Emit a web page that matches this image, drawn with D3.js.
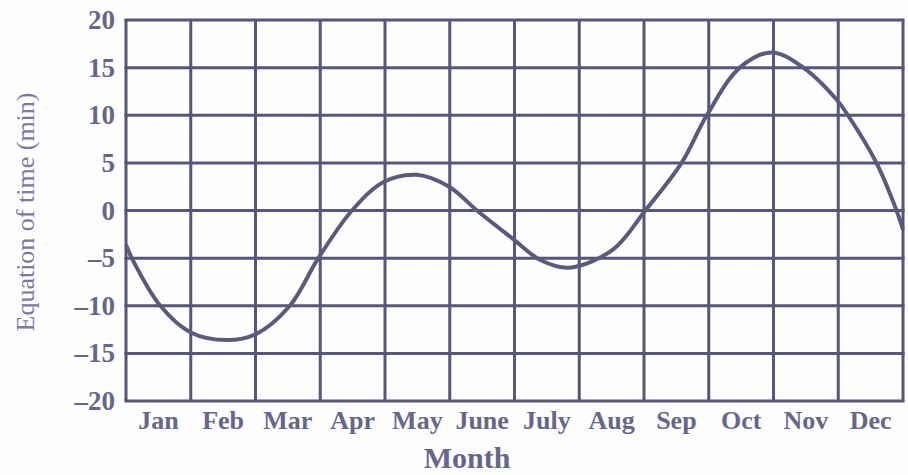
<!DOCTYPE html>
<html>
<head>
<meta charset="utf-8">
<script src="https://cdn.jsdelivr.net/npm/d3@7"></script>
<style>
  body { margin: 0; background: #fdfdfd; }
  svg { display: block; }
</style>
</head>
<body>
<script>
// month labels, one per column
const months = ['Jan', 'Feb', 'Mar', 'Apr', 'May', 'June', 'July', 'Aug', 'Sep', 'Oct', 'Nov', 'Dec'];
// y ticks
const yTicks = [20, 15, 10, 5, 0, -5, -10, -15, -20];
// curve points: position in months (0 = start of Jan) and minutes
const monthPos = [0, 0.09, 0.53, 1.0, 1.56, 2.0, 2.53, 2.97, 3.49, 3.98, 4.49, 4.99, 5.42, 5.98, 6.4, 6.85, 7.52, 8.02, 8.58, 8.97, 9.48, 9.97, 10.46, 10.98, 11.15, 11.59, 11.9, 12];
const eqTime   = [-3.6, -5, -10, -12.8, -13.6, -13.0, -10, -5, 0, 3.0, 3.75, 2.5, 0, -3.0, -5.2, -6.0, -4.1, 0, 5, 10, 15, 16.6, 15, 11.6, 10, 5, 0, -2];

const WIDTH = 908, HEIGHT = 475;
const margin = { left: 126, right: 5, top: 20, bottom: 74 };
const ink = '#56567a';
const labelInk = '#66668c';

const svg = d3.select('body').append('svg')
  .attr('width', WIDTH)
  .attr('height', HEIGHT);

const x = d3.scaleLinear().domain([0, 12]).range([margin.left, WIDTH - margin.right]);
const y = d3.scaleLinear().domain([-20, 20]).range([HEIGHT - margin.bottom, margin.top]);

// grid
svg.append('g')
  .selectAll('line')
  .data(d3.range(0, 13))
  .enter()
  .append('line')
  .attr('x1', d => x(d)).attr('x2', d => x(d))
  .attr('y1', y(20)).attr('y2', y(-20))
  .attr('stroke', ink)
  .attr('stroke-width', 3);

svg.append('g')
  .selectAll('line')
  .data(yTicks)
  .enter()
  .append('line')
  .attr('x1', x(0) - 1.5).attr('x2', x(12) + 1.5)
  .attr('y1', d => y(d)).attr('y2', d => y(d))
  .attr('stroke', ink)
  .attr('stroke-width', 3);

// curve
const line = d3.line()
  .x(d => x(d[0]))
  .y(d => y(d[1]))
  .curve(d3.curveCatmullRom);

svg.append('path')
  .datum(d3.zip(monthPos, eqTime))
  .attr('d', line)
  .attr('fill', 'none')
  .attr('stroke', '#5a5a7c')
  .attr('stroke-width', 4);

// y tick labels
svg.append('g')
  .selectAll('text')
  .data(yTicks)
  .enter()
  .append('text')
  .attr('x', 115)
  .attr('y', d => y(d) + 9)
  .attr('text-anchor', 'end')
  .attr('font-family', 'Liberation Serif, serif')
  .attr('font-weight', 'bold')
  .attr('font-size', 27)
  .attr('fill', labelInk)
  .text(d => d < 0 ? '\u2013' + Math.abs(d) : d);

// month labels
svg.append('g')
  .selectAll('text')
  .data(months)
  .enter()
  .append('text')
  .attr('x', (d, i) => x(i + 0.5))
  .attr('y', 429)
  .attr('text-anchor', 'middle')
  .attr('font-family', 'Liberation Serif, serif')
  .attr('font-weight', 'bold')
  .attr('font-size', 26)
  .attr('fill', labelInk)
  .text(d => d);

svg.append('text')
  .attr('x', 467)
  .attr('y', 468)
  .attr('text-anchor', 'middle')
  .attr('font-family', 'Liberation Serif, serif')
  .attr('font-weight', 'bold')
  .attr('font-size', 30)
  .attr('fill', labelInk)
  .text('Month');

svg.append('text')
  .attr('transform', 'translate(34,212) rotate(-90)')
  .attr('text-anchor', 'middle')
  .attr('font-family', 'Liberation Serif, serif')
  .attr('font-size', 26)
  .attr('fill', '#7a7aa4')
  .text('Equation of time (min)');
</script>
</body>
</html>
